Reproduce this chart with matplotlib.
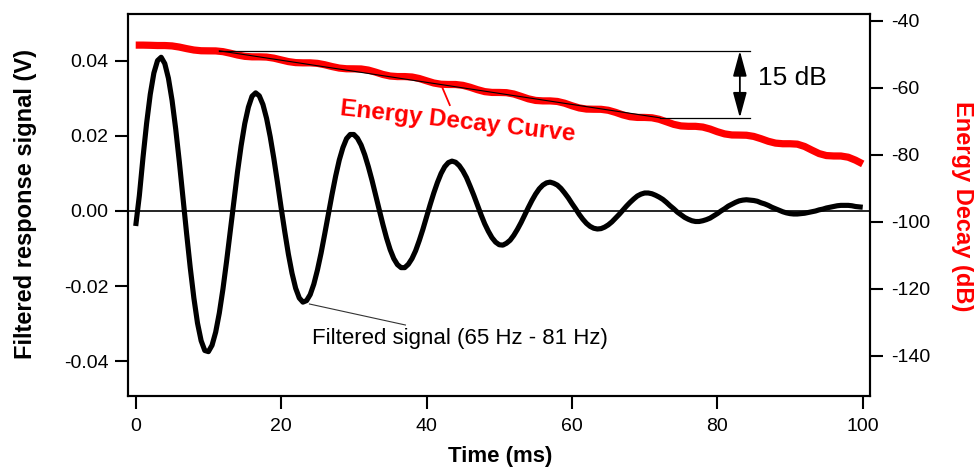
import matplotlib
matplotlib.use("Agg")
import matplotlib.pyplot as plt
from matplotlib.ticker import FormatStrFormatter

plt.rcParams['font.family'] = ['Liberation Sans', 'DejaVu Sans']
plt.rcParams['axes.unicode_minus'] = False

# ---- data ----
signal_time_ms = [
    0, 0.5, 1, 1.5, 2, 2.5, 3, 3.5, 4, 4.5, 5, 5.5, 6, 6.5, 7, 7.5, 8, 8.5, 9, 9.5,
    10, 10.5, 11, 11.5, 12, 12.5, 13, 13.5, 14, 14.5, 15, 15.5, 16, 16.5, 17, 17.5, 18, 18.5, 19, 19.5,
    20, 20.5, 21, 21.5, 22, 22.5, 23, 23.5, 24, 24.5, 25, 25.5, 26, 26.5, 27, 27.5, 28, 28.5, 29, 29.5,
    30, 30.5, 31, 31.5, 32, 32.5, 33, 33.5, 34, 34.5, 35, 35.5, 36, 36.5, 37, 37.5, 38, 38.5, 39, 39.5,
    40, 40.5, 41, 41.5, 42, 42.5, 43, 43.5, 44, 44.5, 45, 45.5, 46, 46.5, 47, 47.5, 48, 48.5, 49, 49.5,
    50, 50.5, 51, 51.5, 52, 52.5, 53, 53.5, 54, 54.5, 55, 55.5, 56, 56.5, 57, 57.5, 58, 58.5, 59, 59.5,
    60, 60.5, 61, 61.5, 62, 62.5, 63, 63.5, 64, 64.5, 65, 65.5, 66, 66.5, 67, 67.5, 68, 68.5, 69, 69.5,
    70, 70.5, 71, 71.5, 72, 72.5, 73, 73.5, 74, 74.5, 75, 75.5, 76, 76.5, 77, 77.5, 78, 78.5, 79, 79.5,
    80, 80.5, 81, 81.5, 82, 82.5, 83, 83.5, 84, 84.5, 85, 85.5, 86, 86.5, 87, 87.5, 88, 88.5, 89, 89.5,
    90, 90.5, 91, 91.5, 92, 92.5, 93, 93.5, 94, 94.5, 95, 95.5, 96, 96.5, 97, 97.5, 98, 98.5, 99, 99.5,
    100]
signal_v = [
    -0.0040, 0.0041, 0.0142, 0.0234, 0.0311, 0.0368, 0.0401, 0.0410, 0.0393, 0.0354,
    0.0295, 0.0219, 0.0131, 0.0036, -0.0060, -0.0151, -0.0232, -0.0299, -0.0346, -0.0372,
    -0.0375, -0.0358, -0.0323, -0.0272, -0.0208, -0.0134, -0.0055, 0.0026, 0.0104, 0.0174,
    0.0233, 0.0277, 0.0306, 0.0315, 0.0307, 0.0284, 0.0247, 0.0198, 0.0140, 0.0076,
    0.0009, -0.0055, -0.0115, -0.0166, -0.0206, -0.0232, -0.0243, -0.0239, -0.0223, -0.0195,
    -0.0157, -0.0112, -0.0061, -0.0008, 0.0044, 0.0093, 0.0136, 0.0169, 0.0193, 0.0204,
    0.0204, 0.0194, 0.0176, 0.0150, 0.0118, 0.0082, 0.0042, 0.0003, -0.0036, -0.0072,
    -0.0103, -0.0127, -0.0143, -0.0151, -0.0151, -0.0142, -0.0127, -0.0106, -0.0079, -0.0049,
    -0.0016, 0.0017, 0.0048, 0.0076, 0.0100, 0.0118, 0.0129, 0.0133, 0.0130, 0.0121,
    0.0107, 0.0089, 0.0066, 0.0042, 0.0016, -0.0010, -0.0034, -0.0054, -0.0071, -0.0083,
    -0.0090, -0.0091, -0.0086, -0.0078, -0.0065, -0.0049, -0.0031, -0.0011, 0.0009, 0.0028,
    0.0045, 0.0059, 0.0069, 0.0075, 0.0077, 0.0074, 0.0069, 0.0060, 0.0048, 0.0035,
    0.0020, 0.0006, -0.0009, -0.0022, -0.0033, -0.0041, -0.0046, -0.0048, -0.0047, -0.0043,
    -0.0037, -0.0029, -0.0019, -0.0009, 0.0002, 0.0013, 0.0023, 0.0032, 0.0040, 0.0045,
    0.0048, 0.0048, 0.0046, 0.0042, 0.0037, 0.0031, 0.0023, 0.0014, 0.0006, -0.0003,
    -0.0010, -0.0017, -0.0022, -0.0026, -0.0028, -0.0028, -0.0026, -0.0023, -0.0019, -0.0013,
    -0.0007, 0.0000, 0.0006, 0.0013, 0.0018, 0.0023, 0.0027, 0.0029, 0.0030, 0.0029,
    0.0028, 0.0026, 0.0022, 0.0019, 0.0015, 0.0010, 0.0006, 0.0002, -0.0002, -0.0005,
    -0.0007, -0.0008, -0.0008, -0.0007, -0.0006, -0.0004, -0.0002, 0.0000, 0.0003, 0.0005,
    0.0008, 0.0010, 0.0012, 0.0014, 0.0015, 0.0015, 0.0015, 0.0014, 0.0012, 0.0011,
    0.0010]

edc_time_ms = list(range(0, 101))
edc_db = [-47.20, -47.20, -47.25, -47.32, -47.32, -47.44, -47.78, -48.25, -48.66, -48.88,
          -48.91, -48.93, -49.15, -49.61, -50.15, -50.55, -50.70, -50.70, -50.77, -51.09,
          -51.61, -52.12, -52.42, -52.49, -52.49, -52.65, -53.06, -53.60, -54.05, -54.26,
          -54.28, -54.32, -54.65, -55.27, -55.96, -56.43, -56.59, -56.59, -56.72, -57.17,
          -57.85, -58.51, -58.88, -58.95, -58.96, -59.21, -59.78, -60.50, -61.08, -61.32,
          -61.33, -61.40, -61.79, -62.49, -63.23, -63.71, -63.85, -63.85, -64.02, -64.54,
          -65.30, -65.95, -66.29, -66.34, -66.36, -66.65, -67.27, -68.02, -68.57, -68.78,
          -68.79, -68.89, -69.34, -70.09, -70.85, -71.32, -71.44, -71.44, -71.66, -72.25,
          -73.05, -73.70, -74.02, -74.05, -74.10, -74.45, -75.13, -75.90, -76.45, -76.64,
          -76.64, -76.76, -77.45, -78.54, -79.58, -80.17, -80.29, -80.30, -80.66, -81.54,
          -82.66]

# fitted decay line (endpoints) and the 15 dB bracket levels
fit_time_ms = [11.5, 72.1]
fit_db = [-48.9, -68.9]
bracket_db = [-48.9, -68.9]
bracket_start_ms = [11.5, 72.1]
bracket_end_ms = 84.5
arrow_time_ms = 83.1

x_ticks = [0, 20, 40, 60, 80, 100]
left_ticks = [-0.04, -0.02, 0.00, 0.02, 0.04]
right_ticks = [-140, -120, -100, -80, -60, -40]

RED = '#ff0000'

fig = plt.figure(figsize=(9.74, 4.70), dpi=100)
ax = fig.add_axes([0.13142, 0.15745, 0.76181, 0.81277])
ax2 = ax.twinx()

# signal
ax.axhline(0, color='black', lw=1.2, zorder=1)
ax.plot(signal_time_ms, signal_v, color='black', lw=3.7, solid_joinstyle='round',
        solid_capstyle='butt', zorder=3)
ax.set_xlim(-1.06, 101.0)
ax.set_ylim(-0.04933, 0.05253)
ax.set_xticks(x_ticks)
ax.set_yticks(left_ticks)
ax.yaxis.set_major_formatter(FormatStrFormatter('%.2f'))

# energy decay curve
ax2.plot(edc_time_ms, edc_db, color=RED, lw=5.2, solid_joinstyle='round',
         solid_capstyle='butt', zorder=2)
ax2.plot(fit_time_ms, fit_db, color='black', lw=0.8, zorder=4)
for lvl, xs in zip(bracket_db, bracket_start_ms):
    ax2.plot([xs, bracket_end_ms], [lvl, lvl], color='black', lw=0.9, zorder=4)
ax2.annotate('', xy=(arrow_time_ms, bracket_db[0]), xytext=(arrow_time_ms, bracket_db[1]),
             arrowprops=dict(arrowstyle='<|-|>,head_length=1.55,head_width=0.42',
                             mutation_scale=10, lw=1.3, color='black',
                             shrinkA=0, shrinkB=0), zorder=5)
ax2.text(85.6, -57.0, '15 dB', fontsize=19, ha='left', va='center', color='black')
ax2.set_ylim(-151.94, -37.91)
ax2.set_yticks(right_ticks)

# annotations
ax2.text(28.06, -68.06, 'Energy Decay Curve', color=RED, fontsize=17.5, fontweight='bold',
         rotation=-6.3, rotation_mode='anchor', ha='left', va='baseline')
ax2.plot([42.2, 43.2], [-60.0, -65.1], color=RED, lw=1.3, zorder=4)
ax.plot([23.9, 37.1], [-0.0248, -0.0304], color='#333333', lw=0.8, zorder=4)
ax.text(24.3, -0.0341, 'Filtered signal (65 Hz - 81 Hz)', fontsize=16, ha='left', va='center')

# styling
for a in (ax, ax2):
    for s in a.spines.values():
        s.set_linewidth(1.5)
ax.tick_params(axis='both', which='major', direction='out', length=9.5, width=1.5,
               labelsize=14, color='black')
ax.tick_params(axis='y', pad=4.5)
ax.tick_params(axis='x', pad=6)
ax2.tick_params(axis='y', direction='out', length=9.5, width=1.5, labelsize=14, pad=6)

fig.text(0.0257, 0.567, 'Filtered response signal (V)', rotation=90, fontsize=17,
         fontweight='bold', ha='center', va='center')
fig.text(0.9885, 0.5606, 'Energy Decay (dB)', rotation=-90, fontsize=17, color=RED,
         fontweight='bold', ha='center', va='center')
fig.text(0.5133, 0.0277, 'Time (ms)', fontsize=16, fontweight='bold', ha='center',
         va='center')

fig.savefig('out.png', dpi=100)
